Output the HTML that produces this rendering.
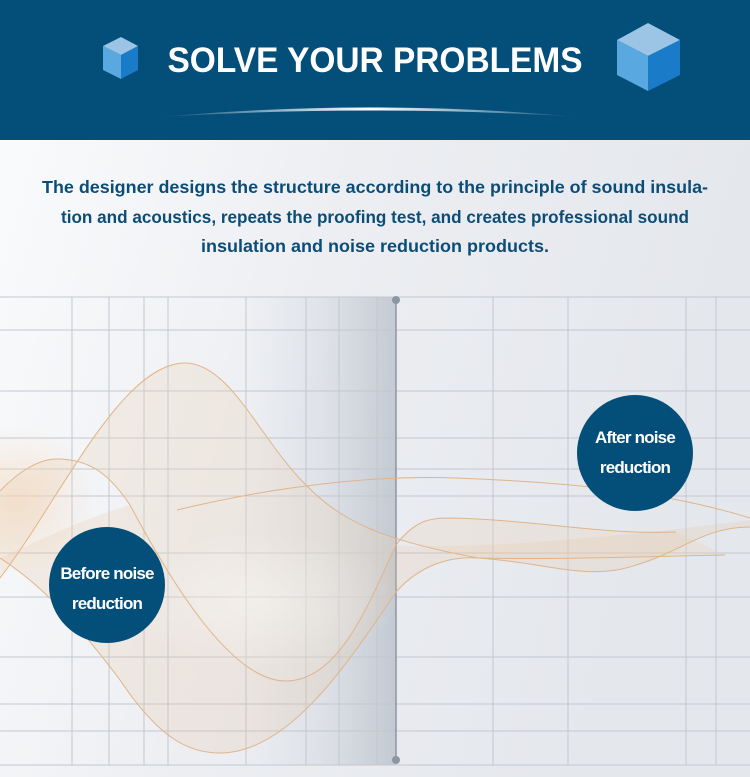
<!DOCTYPE html>
<html><head><meta charset="utf-8"><style>
html,body{margin:0;padding:0;width:750px;height:777px;overflow:hidden;font-family:"Liberation Sans",sans-serif}
</style></head><body>
<svg width="750" height="777" viewBox="0 0 750 777" xmlns="http://www.w3.org/2000/svg" style="display:block">
<defs>
<linearGradient id="bg" x1="0" y1="0" x2="1" y2="0.3">
<stop offset="0" stop-color="#fbfcfd"/><stop offset="0.5" stop-color="#eceef2"/><stop offset="1" stop-color="#e4e7ec"/>
</linearGradient>
<linearGradient id="shade" x1="0" x2="1">
<stop offset="0" stop-color="#9aa6b4" stop-opacity="0"/><stop offset="0.5" stop-color="#9aa6b4" stop-opacity="0.15"/><stop offset="1" stop-color="#8a97a6" stop-opacity="0.4"/>
</linearGradient>
<radialGradient id="glow" cx="0.5" cy="0.5" r="0.5">
<stop offset="0" stop-color="#ffffff" stop-opacity="1"/><stop offset="1" stop-color="#ffffff" stop-opacity="0"/>
</radialGradient>
<radialGradient id="orange" cx="0.5" cy="0.5" r="0.5">
<stop offset="0" stop-color="#f6d4b2" stop-opacity="0.9"/><stop offset="1" stop-color="#f6d4b2" stop-opacity="0"/>
</radialGradient>
<linearGradient id="arc" x1="0" x2="1">
<stop offset="0" stop-color="#fff" stop-opacity="0"/><stop offset="0.5" stop-color="#fff"/><stop offset="1" stop-color="#fff" stop-opacity="0"/>
</linearGradient>
</defs>
<rect width="750" height="777" fill="url(#bg)"/>
<rect width="750" height="140" fill="#034f7a"/>
<path d="M160 117 Q370 98 580 117 Q370 104 160 117Z" fill="url(#arc)"/>
<polygon points="121,37 138,46 121,55 103,46" fill="#9cc4e4"/>
<polygon points="103,46 121,55 121,79 103,70" fill="#5aa8e0"/>
<polygon points="121,55 138,46 138,70 121,79" fill="#1a7cc8"/>
<polygon points="648,23 680,40 648,56 617,40" fill="#9cc4e4"/>
<polygon points="617,40 648,56 648,91 617,75" fill="#5aa8e0"/>
<polygon points="648,56 680,40 680,75 648,91" fill="#1a7cc8"/>
<text x="375" y="72" text-anchor="middle" fill="#fff" font-size="35" font-weight="bold" textLength="415" lengthAdjust="spacingAndGlyphs" font-family="Liberation Sans,sans-serif">SOLVE YOUR PROBLEMS</text>
<g fill="#0c4d78" font-size="17.5" font-weight="bold" text-anchor="middle" font-family="Liberation Sans,sans-serif">
<text x="375" y="193" textLength="666" lengthAdjust="spacingAndGlyphs">The designer designs the structure according to the principle of sound insula-</text>
<text x="375" y="223" textLength="628" lengthAdjust="spacingAndGlyphs">tion and acoustics, repeats the proofing test, and creates professional sound</text>
<text x="375" y="252" textLength="348" lengthAdjust="spacingAndGlyphs">insulation and noise reduction products.</text>
</g>
<rect x="246" y="297" width="150" height="468" fill="url(#shade)"/>
<g stroke="#c3c7ce" stroke-width="1" fill="none">
<path d="M0 297H750M0 330H750M0 391H750M0 438H750M0 469H750M0 496H750M0 553H750M0 597H750M0 657H750M0 704H750M0 731H750M0 765H750"/>
<path d="M72 297V765M109 297V765M144 297V765M168 297V765M246 297V765M306 297V765M339 297V765M377 297V765M493 297V765M568 297V765M686 297V765M716 297V765"/>
</g>
<line x1="396" y1="300" x2="396" y2="760" stroke="#8c96a2" stroke-width="1.5"/>
<circle cx="396" cy="300" r="4" fill="#8c96a2"/><circle cx="396" cy="760" r="4" fill="#8c96a2"/>
<ellipse cx="15" cy="500" rx="80" ry="75" fill="url(#orange)" opacity="0.6"/>
<!-- fills -->
<path d="M0 578 C60 500 120 365 184 363 C230 362 260 440 306 485 C340 520 380 540 478 558 C560 560 660 556 725 555 L676 532 C600 535 540 520 450 518 C430 518 415 520 396 545 C370 600 340 682 285 681 C230 680 170 580 130 505 C110 475 90 459 57 459 C40 459 20 470 0 491Z" fill="#ecd3b9" fill-opacity="0.3"/>
<path d="M0 558 C50 590 90 640 120 680 C160 740 190 753 220 753 C290 753 350 660 396 592 C420 565 450 556 478 558 C540 562 580 578 622 569 C680 555 700 527 750 527 L750 520 C600 540 450 550 396 545 C370 600 340 682 285 681 C230 680 170 580 130 505 C80 520 40 540 0 558Z" fill="#e8c4a0" fill-opacity="0.22"/>
<ellipse cx="260" cy="600" rx="140" ry="70" fill="url(#glow)" opacity="0.35"/>
<g fill="none" stroke="#e0b48a" stroke-width="1">
<path d="M0 578 C60 500 120 365 184 363 C230 362 260 440 306 485 C340 520 380 540 478 558 C560 560 660 556 725 555"/>
<path d="M0 491 C20 470 40 459 57 459 C90 459 110 475 130 505 C170 580 230 680 285 681 C340 682 370 600 396 545 C415 520 430 518 450 518 C540 520 600 535 676 532"/>
<path d="M0 558 C50 590 90 640 120 680 C160 740 190 753 220 753 C290 753 350 660 396 592 C420 565 450 556 478 558 C540 562 580 578 622 569 C680 555 700 527 750 527"/>
<path d="M177 510 C280 485 380 475 455 478 C560 482 660 490 750 518"/>
</g>
<circle cx="107" cy="585" r="58" fill="#034f7a"/>
<circle cx="635" cy="453" r="58" fill="#034f7a"/>
<g fill="#fff" font-size="17" font-weight="bold" text-anchor="middle" font-family="Liberation Sans,sans-serif" letter-spacing="-0.8">
<text x="107" y="579">Before noise</text>
<text x="107" y="609">reduction</text>
<text x="635" y="443">After noise</text>
<text x="635" y="473">reduction</text>
</g>
</svg>
</body></html>
